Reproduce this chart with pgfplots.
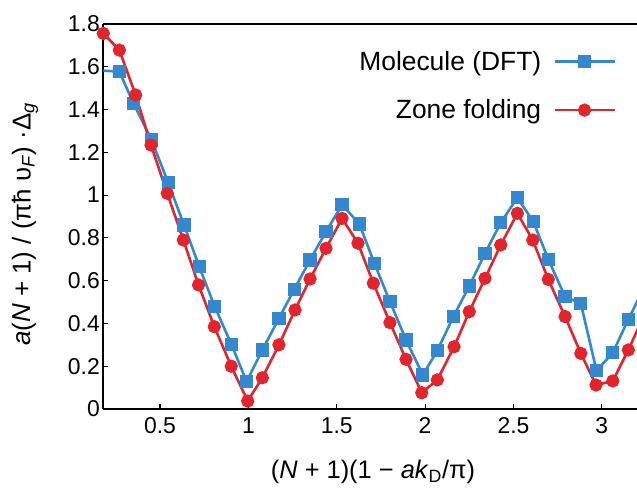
\documentclass[border=0pt]{standalone}
\usepackage{fontspec}
\setmainfont{Liberation Sans}
\usepackage{pgfplots}
\pgfplotsset{compat=1.18}
\definecolor{cblue}{RGB}{52,136,208}
\definecolor{cred}{RGB}{226,36,44}
\begin{document}
\begin{tikzpicture}
\useasboundingbox (-103.3bp,-79bp) rectangle (533.7bp,409bp);
\begin{axis}[
  at={(0,0)}, anchor=south west,
  scale only axis,
  width=533.7bp, height=385bp,
  xmin=0.179, xmax=3.199, ymin=0, ymax=1.8,
  axis x line*=box, axis y line*=left,
  xtick={0.5,1,1.5,2,2.5,3},
  ytick={0,0.2,0.4,0.6,0.8,1,1.2,1.4,1.6,1.8},
  yticklabels={0,0.2,0.4,0.6,0.8,1,1.2,1.4,1.6,1.8},
  xticklabels={0.5,1,1.5,2,2.5,3},
  xtick pos=bottom, ytick pos=left,
  tick align=inside,
  major tick length=5bp,
  tick style={black, line width=1.1bp},
  axis line style={draw=black, line width=1.8bp, -},
  ticklabel style={font=\fontsize{23}{27}\selectfont},
  xticklabel style={yshift=-5bp},
  /pgf/number format/assume math mode=true,
  xlabel={(\textit{N} + 1)(1 − \textit{ak}\textsubscript{D}/π)},
  ylabel={\textit{a}(\textit{N} + 1) / (πħ υ\textsubscript{\textit{F}}) ·Δ\textsubscript{\textit{g}}},
  label style={font=\fontsize{26}{30}\selectfont},
  xlabel style={at={(axis description cs:0.5053,-0.1636)}, anchor=center, font=\fontsize{25.5}{30}\selectfont},
  ylabel style={at={(axis description cs:-0.1467,0.48)}, anchor=center},
  legend style={at={(axis description cs:0.9607,0.93)}, anchor=north east,
    draw=none, fill=none, font=\fontsize{26.5}{31}\selectfont,
    row sep=28bp, column sep=12bp, inner sep=0pt,
    nodes={inner sep=0pt}},
  legend cell align=right,
  legend plot pos=right,
  legend image code/.code={%
    \draw[#1, mark=none] (0bp,0bp) -- (60bp,0bp);
    \draw[#1, only marks] plot coordinates {(30bp,0bp)};},
]
\addplot[cblue, line width=2.6bp, mark=square*, mark size=5.3bp] coordinates {
(0.178,1.582) (0.270,1.577) (0.350,1.429) (0.452,1.258) (0.546,1.058)
(0.636,0.860) (0.722,0.665) (0.810,0.478) (0.905,0.300) (0.990,0.128)
(1.079,0.276) (1.173,0.424) (1.260,0.560) (1.349,0.697) (1.439,0.829)
(1.530,0.955) (1.628,0.865) (1.713,0.681) (1.801,0.502) (1.892,0.323)
(1.987,0.159) (2.069,0.273) (2.160,0.432) (2.250,0.575) (2.339,0.728)
(2.428,0.871) (2.522,0.988) (2.612,0.876) (2.697,0.700) (2.792,0.525)
(2.881,0.494) (2.970,0.179) (3.062,0.263) (3.150,0.419) (3.240,0.570)
};
\addlegendentry{Molecule (DFT)}
\addplot[cred, line width=2.6bp, mark=*, mark size=5.3bp] coordinates {
(0.179,1.756) (0.270,1.678) (0.362,1.468) (0.449,1.234) (0.541,1.008)
(0.632,0.790) (0.718,0.580) (0.807,0.385) (0.903,0.200) (0.996,0.037)
(1.079,0.146) (1.173,0.300) (1.264,0.463) (1.349,0.608) (1.439,0.751)
(1.530,0.891) (1.620,0.775) (1.707,0.588) (1.801,0.404) (1.892,0.232)
(1.981,0.076) (2.069,0.136) (2.164,0.291) (2.250,0.455) (2.339,0.611)
(2.428,0.767) (2.522,0.915) (2.609,0.790) (2.697,0.606) (2.792,0.432)
(2.881,0.260) (2.967,0.112) (3.062,0.131) (3.150,0.276) (3.240,0.440)
};
\addlegendentry{Zone folding}
\end{axis}
\end{tikzpicture}
\end{document}
